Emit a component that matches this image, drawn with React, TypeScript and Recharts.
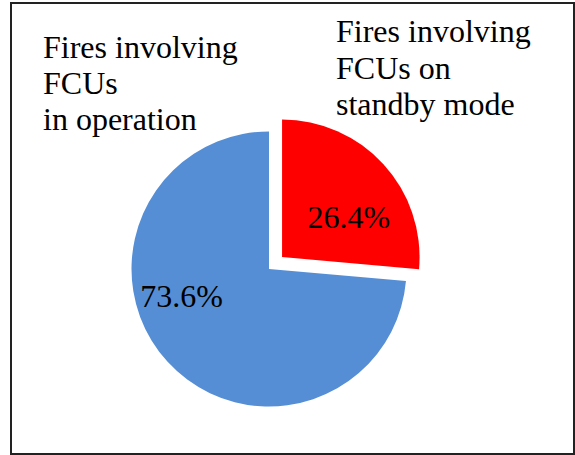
import React from 'react';
import { PieChart, Pie, Cell } from 'recharts';

const categories = ['Fires involving FCUs on standby mode', 'Fires involving FCUs in operation'];
const shares = [26.4, 73.6];
const percentLabels = ['26.4%', '73.6%'];
const legendLines = [
  ['Fires involving', 'FCUs on', 'standby mode'],
  ['Fires involving', 'FCUs', 'in operation'],
];
const colors = ['#FF0000', '#558ED5'];

const data = categories.map((name, i) => ({ name, value: shares[i] }));

const W = 575;
const H = 455;
const CX = 269;
const CY = 269;
const R = 137.5;
const EXPLODE = 17.7;

// exploded slice offset from its mid angle (clockwise from 12 o'clock)
const total = shares.reduce((a, b) => a + b, 0);
const midDeg = 90 - (shares[0] / total) * 360 / 2;
const exDx = EXPLODE * Math.cos((midDeg * Math.PI) / 180);
const exDy = -EXPLODE * Math.sin((midDeg * Math.PI) / 180);

const labelOffsets = [
  { dx: 66.8, dy: -29.4 },
  { dx: -87.3, dy: 37.7 },
];

const font = '"Liberation Serif", "Times New Roman", serif';

const makeLabel = (only: number) => (props: any) => {
  const { cx, cy, index } = props;
  if (index !== only) return null;
  const o = labelOffsets[index];
  return (
    <text
      x={cx + o.dx}
      y={cy + o.dy}
      textAnchor="middle"
      fill="#000"
      style={{ fontFamily: font, fontSize: 32 }}
    >
      {percentLabels[index]}
    </text>
  );
};

export default function App() {
  return (
    <div style={{ position: 'absolute', left: 0, top: 0, width: W, height: H, background: '#fff' }}>
      <PieChart width={W} height={H} margin={{ top: 0, right: 0, bottom: 0, left: 0 }}>
        <Pie
          data={data}
          dataKey="value"
          nameKey="name"
          cx={CX}
          cy={CY}
          outerRadius={R}
          startAngle={90}
          endAngle={-270}
          stroke="none"
          labelLine={false}
          label={makeLabel(1)}
          isAnimationActive={false}
        >
          {data.map((d, i) => (
            <Cell key={d.name} fill={i === 1 ? colors[1] : 'none'} />
          ))}
        </Pie>
        <Pie
          data={data}
          dataKey="value"
          nameKey="name"
          cx={CX + exDx}
          cy={CY + exDy}
          outerRadius={R}
          startAngle={90}
          endAngle={-270}
          stroke="none"
          labelLine={false}
          label={makeLabel(0)}
          isAnimationActive={false}
        >
          {data.map((d, i) => (
            <Cell key={d.name} fill={i === 0 ? colors[0] : 'none'} />
          ))}
        </Pie>
      </PieChart>
      <svg
        width={W}
        height={H}
        style={{ position: 'absolute', left: 0, top: 0, pointerEvents: 'none' }}
      >
        {legendLines[1].map((t, i) => (
          <text key={'l' + i} x={43} y={57.7 + i * 36.2} style={{ fontFamily: font, fontSize: 32 }} fill="#000">
            {t}
          </text>
        ))}
        {legendLines[0].map((t, i) => (
          <text key={'r' + i} x={336} y={42.3 + i * 36.4} style={{ fontFamily: font, fontSize: 32 }} fill="#000">
            {t}
          </text>
        ))}
      </svg>
      <div
        style={{
          position: 'absolute',
          left: 10,
          top: 2,
          width: 565,
          height: 453,
          boxSizing: 'border-box',
          border: '2.5px solid #222',
          pointerEvents: 'none',
        }}
      />
    </div>
  );
}
